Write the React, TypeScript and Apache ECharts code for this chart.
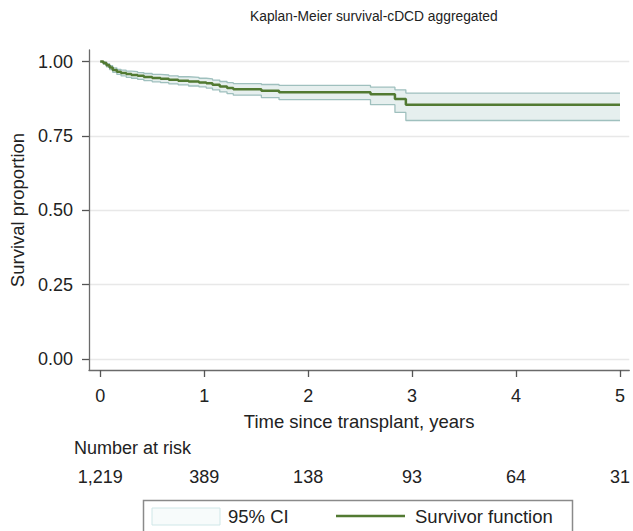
import React, { useEffect, useRef } from "react";
import * as echarts from "echarts";

const titleText = "Kaplan-Meier survival-cDCD aggregated";
const xTicks = [0, 1, 2, 3, 4, 5];
const yTicks = [0, 0.25, 0.5, 0.75, 1];
const yTickLabels = ["0.00", "0.25", "0.50", "0.75", "1.00"];

const times = [0, 0.03, 0.06, 0.09, 0.12, 0.16, 0.2, 0.25, 0.3, 0.36, 0.42, 0.5, 0.58, 0.66, 0.75, 0.85, 0.95, 1.02, 1.08, 1.15, 1.22, 1.28, 1.55, 1.72, 2.6, 2.835, 2.94, 5.0];
const survival = [1, 0.995, 0.988, 0.98, 0.972, 0.966, 0.962, 0.958, 0.955, 0.952, 0.948, 0.945, 0.942, 0.939, 0.936, 0.933, 0.93, 0.927, 0.922, 0.916, 0.911, 0.907, 0.902, 0.897, 0.89, 0.874, 0.855, 0.855];
const ciLower = [1, 0.991, 0.982, 0.973, 0.964, 0.957, 0.952, 0.947, 0.944, 0.94, 0.936, 0.932, 0.929, 0.925, 0.922, 0.918, 0.915, 0.911, 0.905, 0.898, 0.892, 0.887, 0.879, 0.872, 0.855, 0.829, 0.802, 0.802];
const ciUpper = [1, 0.998, 0.993, 0.986, 0.979, 0.974, 0.971, 0.968, 0.966, 0.963, 0.96, 0.957, 0.955, 0.952, 0.949, 0.947, 0.944, 0.942, 0.938, 0.933, 0.929, 0.926, 0.923, 0.92, 0.914, 0.905, 0.894, 0.894];

const riskTimes = [0, 1, 2, 3, 4, 5];
const riskCounts = ["1,219", "389", "138", "93", "64", "31"];

const FONT = "'Liberation Sans', Arial, Helvetica, sans-serif";
const LINE_GREEN = "#527a32";
const CI_EDGE = "#9fc0be";
const CI_FILL = "#e6efee";

function stepPoints(api: any, vals: number[]) {
  const pts: number[][] = [];
  for (let i = 0; i < times.length; i++) {
    pts.push(api.coord([times[i], vals[i]]));
    if (i < times.length - 1) pts.push(api.coord([times[i + 1], vals[i]]));
  }
  return pts;
}

export default function App() {
  const ref = useRef<HTMLDivElement>(null);
  useEffect(() => {
    if (!ref.current) return;
    const chart = echarts.init(ref.current, null, { renderer: "svg" });
    const lowerData = times.map((t, i) => [t, ciLower[i]]);
    const upperData = times.map((t, i) => [t, ciUpper[i]]);
    const survData = times.map((t, i) => [t, survival[i]]);
    const option: any = {
      animation: false,
      textStyle: { fontFamily: FONT },
      title: {
        text: titleText,
        left: 245,
        top: 4,
        textStyle: { fontFamily: FONT, fontSize: 13.8, fontWeight: "normal", color: "#222" },
      },
      grid: { left: 88, top: 50, right: 0, bottom: 161, containLabel: false },
      xAxis: [
        {
          type: "value",
          min: -0.108,
          max: 5.089,
          name: "Time since transplant, years",
          nameLocation: "middle",
          nameGap: 42,
          nameTextStyle: { fontFamily: FONT, fontSize: 18.5, color: "#222" },
          axisLine: { show: true, onZero: false, lineStyle: { color: "#6a6a6a", width: 1.3 } },
          axisTick: { show: true, length: 7, customValues: xTicks, lineStyle: { color: "#555", width: 1.3 } },
          axisLabel: { customValues: xTicks, margin: 17, fontSize: 18, color: "#222", fontFamily: FONT },
          splitLine: { show: false },
        },
        {
          type: "value",
          position: "bottom",
          offset: 80,
          min: -0.108,
          max: 5.089,
          axisLine: { show: false },
          axisTick: { show: false, customValues: riskTimes },
          axisLabel: {
            customValues: riskTimes,
            margin: 18,
            fontSize: 18,
            color: "#222",
            fontFamily: FONT,
            formatter: (v: number) => {
              const idx = riskTimes.indexOf(v);
              return idx >= 0 ? riskCounts[idx] : "";
            },
          },
          splitLine: { show: false },
        },
      ],
      yAxis: {
        type: "value",
        min: -0.037,
        max: 1.039,
        name: "Survival proportion",
        nameLocation: "middle",
        nameGap: 62,
        nameTextStyle: { fontFamily: FONT, fontSize: 18.5, color: "#222" },
        axisLine: { show: true, onZero: false, lineStyle: { color: "#6a6a6a", width: 1.3 } },
        axisTick: { show: true, length: 7, customValues: yTicks, lineStyle: { color: "#555", width: 1.3 } },
        axisLabel: {
          customValues: yTicks,
          margin: 16,
          fontSize: 18,
          color: "#222",
          fontFamily: FONT,
          formatter: (v: number) => {
            const idx = yTicks.indexOf(v);
            return idx >= 0 ? yTickLabels[idx] : "";
          },
        },
        splitLine: { show: true, lineStyle: { color: "#e8e8e8", width: 1.3 } },
      },
      series: [
        {
          name: "95% CI",
          type: "custom",
          xAxisIndex: 0,
          yAxisIndex: 0,
          data: [[0, 1]],
          silent: true,
          z: 1,
          renderItem: (_params: any, api: any) => {
            const up = stepPoints(api, ciUpper);
            const lo = stepPoints(api, ciLower).reverse();
            return {
              type: "polygon",
              shape: { points: up.concat(lo) },
              style: { fill: CI_FILL, stroke: "none" },
            };
          },
        },
        {
          name: "lower",
          type: "line",
          xAxisIndex: 0,
          step: "end",
          data: lowerData,
          showSymbol: false,
          symbol: "none",
          lineStyle: { color: CI_EDGE, width: 1.3 },
          silent: true,
          z: 2,
        },
        {
          name: "upper",
          type: "line",
          xAxisIndex: 0,
          step: "end",
          data: upperData,
          showSymbol: false,
          symbol: "none",
          lineStyle: { color: CI_EDGE, width: 1.3 },
          silent: true,
          z: 2,
        },
        {
          name: "Survivor function",
          type: "line",
          xAxisIndex: 0,
          step: "end",
          data: survData,
          showSymbol: false,
          symbol: "none",
          lineStyle: { color: LINE_GREEN, width: 2.5 },
          silent: true,
          z: 3,
        },
      ],
      graphic: [
        {
          type: "text",
          left: 74,
          top: 439,
          style: { text: "Number at risk", fontSize: 18, fill: "#222", fontFamily: FONT },
        },
        {
          type: "rect",
          shape: { x: 143.5, y: 500.5, width: 429, height: 60 },
          style: { fill: "#fff", stroke: "#8a8a8a", lineWidth: 1.5 },
        },
        {
          type: "rect",
          shape: { x: 152, y: 508, width: 68, height: 17 },
          style: { fill: "#f7fbfb", stroke: "#cfe7e8", lineWidth: 1 },
        },
        {
          type: "text",
          x: 228,
          y: 516,
          style: { text: "95% CI", fontSize: 18.5, fill: "#222", fontFamily: FONT, verticalAlign: "middle" },
        },
        {
          type: "line",
          shape: { x1: 336, y1: 516, x2: 405, y2: 516 },
          style: { stroke: LINE_GREEN, lineWidth: 2.5 },
        },
        {
          type: "text",
          x: 415,
          y: 516,
          style: { text: "Survivor function", fontSize: 18.5, fill: "#222", fontFamily: FONT, verticalAlign: "middle" },
        },
      ],
    };
    chart.setOption(option);
    return () => chart.dispose();
  }, []);
  return (
    <div
      ref={ref}
      style={{ position: "fixed", left: 0, top: 0, width: 633, height: 531, background: "#fff" }}
    />
  );
}
